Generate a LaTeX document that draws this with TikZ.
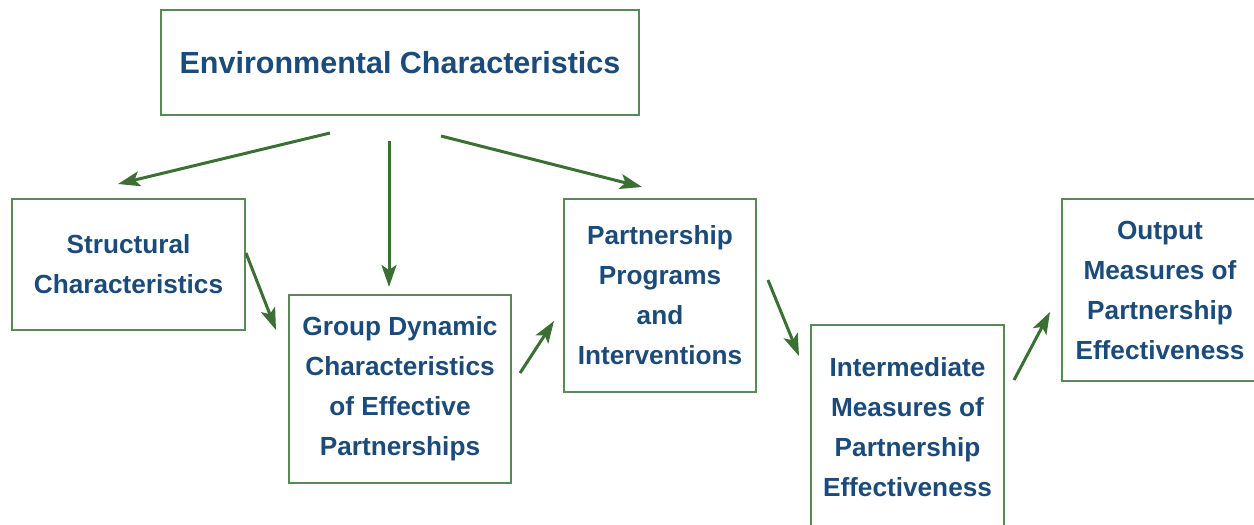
\documentclass[tikz,border=0pt]{standalone}
\usepackage{fontspec}
\setmainfont{Liberation Sans}
\usetikzlibrary{arrows.meta}
\definecolor{boxtext}{RGB}{27,75,122}
\definecolor{boxline}{RGB}{88,138,88}
\definecolor{arrowgreen}{RGB}{58,112,52}
\begin{document}
\begin{tikzpicture}[x=1pt,y=-1pt] % environment -> partnership -> measures
\tikzstyle{mybox} = [draw=boxline, line width=1.4pt, fill=white, text=boxtext, align=center, inner sep=0pt, font=\bfseries\fontsize{26.2}{40}\selectfont] % box style
\tikzstyle{myarrow} = [draw=arrowgreen, line width=3pt, -{Stealth[length=22pt,width=15pt,inset=5pt]}] % arrow style
\useasboundingbox (0,0) rectangle (1254,525);
\clip (0,0) rectangle (1254,525);
% boxes
\node[mybox, minimum width=478pt, minimum height=105pt, font=\bfseries\fontsize{30.5}{40}\selectfont] (env) at (400,62.5) {Environmental Characteristics};
\node[mybox, minimum width=233pt, minimum height=131pt] (struct) at (128.5,264.5) {Structural\\Characteristics};
\node[mybox, minimum width=222pt, minimum height=188pt] (group) at (400,389) {Group Dynamic\\Characteristics\\of Effective\\Partnerships};
\node[mybox, minimum width=192pt, minimum height=193pt] (prog) at (660,295.5) {Partnership\\Programs\\and\\Interventions};
\node[mybox, minimum width=193pt, minimum height=204pt] (inter) at (907.5,427) {Intermediate\\Measures of\\Partnership\\Effectiveness};
\node[mybox, minimum width=196pt, minimum height=182pt] (output) at (1160,290) {Output\\Measures of\\Partnership\\Effectiveness};
% arrow ends
\coordinate (e1) at (330,133); \coordinate (s1) at (118,184);
\coordinate (e2) at (389,141); \coordinate (g1) at (389,287);
\coordinate (e3) at (441,136); \coordinate (p1) at (642,187);
\coordinate (s2) at (246,253); \coordinate (g2) at (276,330);
\coordinate (g3) at (520,373); \coordinate (p2) at (554,321);
\coordinate (p3) at (768,280); \coordinate (i1) at (799,356);
\coordinate (i2) at (1014,380); \coordinate (o1) at (1050,312);
% arrows
\draw[myarrow] (e1) -- (s1);
\draw[myarrow] (e2) -- (g1);
\draw[myarrow] (e3) -- (p1);
\draw[myarrow] (s2) -- (g2);
\draw[myarrow] (g3) -- (p2);
\draw[myarrow] (p3) -- (i1);
\draw[myarrow] (i2) -- (o1);
\end{tikzpicture}
\end{document}
